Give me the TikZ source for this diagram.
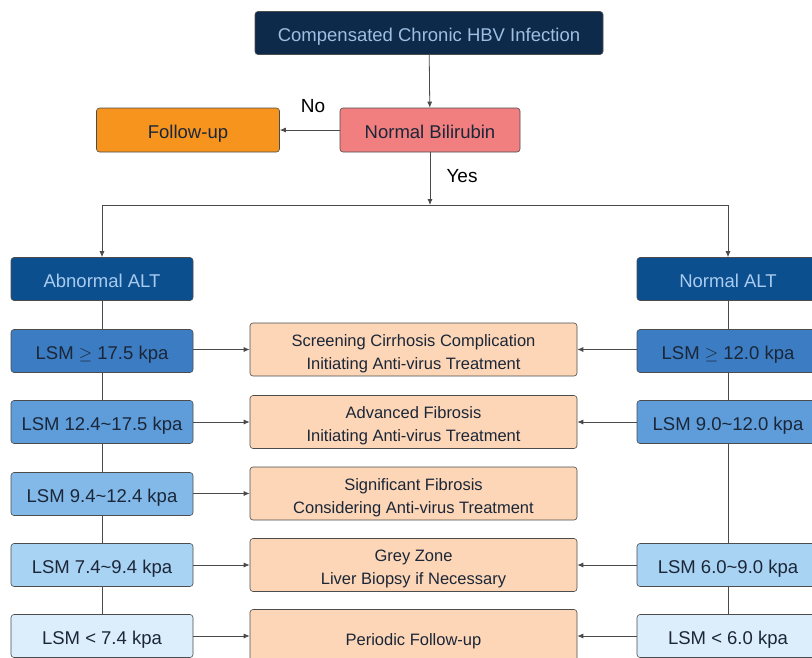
\documentclass[tikz,border=0pt]{standalone}
\usepackage{fontspec}
\setmainfont{Liberation Sans}
\usetikzlibrary{arrows.meta,positioning}
\definecolor{navy}{HTML}{0E2A4A}
\definecolor{navytext}{HTML}{9DBFE3}
\definecolor{bili}{HTML}{F27F7F}
\definecolor{follow}{HTML}{F7941D}
\definecolor{alt}{HTML}{0B4F8E}
\definecolor{alttext}{HTML}{A9CBEF}
\definecolor{lsmA}{HTML}{3B7CC2}
\definecolor{lsmB}{HTML}{5E9DDA}
\definecolor{lsmC}{HTML}{82B9E8}
\definecolor{lsmD}{HTML}{A9D3F3}
\definecolor{lsmE}{HTML}{DCEEFB}
\definecolor{peach}{HTML}{FCD6B6}
\definecolor{ink}{HTML}{1B2638}
\definecolor{wire}{HTML}{4A4A4A}

\begin{document}
\begin{tikzpicture}[%
  x=1pt, y=-1pt,
  box/.style={draw=black!70, line width=.6pt, rounded corners=3pt,
    minimum width=182pt, minimum height=43pt, inner sep=0pt,
    font=\fontsize{18.5}{22}\selectfont, text=ink, align=center},
  oneline/.style={box, text height=18pt, text depth=2pt},
  lsmbox/.style={oneline, fill=#1},
  advice/.style={box, fill=peach, minimum width=327pt, minimum height=53pt,
    font=\fontsize{16.5}{23}\selectfont, text height=39pt, text depth=0pt},
  link/.style={draw=wire, line width=.8pt},
  arr/.style={link, -{Latex[length=6pt,width=5pt]}},
  tlabel/.style={font=\fontsize{19}{22}\selectfont, text=black}]
\useasboundingbox (0,0) rectangle (812,657);

% top of the chart
\node[oneline, fill=navy, text=navytext, minimum width=348pt] (hbv) at (429,33)
  {Compensated Chronic HBV Infection};
\node[oneline, fill=bili, minimum width=180pt, minimum height=44pt] (bilirubin) at (430,130)
  {Normal Bilirubin};
\node[oneline, fill=follow, minimum width=183pt, minimum height=44pt] (followup) at (188,130)
  {Follow-up};
\coordinate (split) at (430,205);

\draw[arr] (hbv) -- (bilirubin);
\draw[arr] (bilirubin) -- (followup);
\node[tlabel] (no) at (313,106) {No};
\draw[arr] (bilirubin) -- (split);
\node[tlabel] (yes) at (462,176) {Yes};

% ALT branches
\node[oneline, fill=alt, text=alttext] (abnalt) at (102,279) {Abnormal ALT};
\node[oneline, fill=alt, text=alttext] (normalt) at (728,279) {Normal ALT};
\draw[arr] (split) -| (abnalt);
\draw[arr] (split) -| (normalt);

% abnormal ALT column
\node[lsmbox=lsmA] (la) at (102,351) {LSM $\geq$ 17.5 kpa};
\node[lsmbox=lsmB] (lb) at (102,422) {LSM 12.4\char`~17.5 kpa};
\node[lsmbox=lsmC] (lc) at (102,494) {LSM 9.4\char`~12.4 kpa};
\node[lsmbox=lsmD] (ld) at (102,565) {LSM 7.4\char`~9.4 kpa};
\node[lsmbox=lsmE] (le) at (102,636) {LSM < 7.4 kpa};

% normal ALT column
\node[lsmbox=lsmA] (ra) at (728,351) {LSM $\geq$ 12.0 kpa};
\node[lsmbox=lsmB] (rb) at (728,422) {LSM 9.0\char`~12.0 kpa};
\node[lsmbox=lsmD] (rd) at (728,565) {LSM 6.0\char`~9.0 kpa};
\node[lsmbox=lsmE] (re) at (728,636) {LSM < 6.0 kpa};

% advice in the middle
\node[advice] (ma) at (413.5,349.5) {Screening Cirrhosis Complication\\Initiating Anti-virus Treatment};
\node[advice] (mb) at (413.5,422) {Advanced Fibrosis\\Initiating Anti-virus Treatment};
\node[advice] (mc) at (413.5,493.5) {Significant Fibrosis\\Considering Anti-virus Treatment};
\node[advice] (md) at (413.5,565) {Grey Zone\\Liver Biopsy if Necessary};
\node[advice, text height=20pt, text depth=2pt] (me) at (413.5,636) {Periodic Follow-up};

\draw[link] (abnalt) -- (la) -- (lb) -- (lc) -- (ld) -- (le);
\draw[link] (normalt) -- (ra) -- (rb) -- (rd) -- (re);
\foreach \l/\m in {la/ma, lb/mb, lc/mc, ld/md, le/me}
  \draw[arr] (\l.east |- \m) -- (\m);
\foreach \r/\m in {ra/ma, rb/mb, rd/md, re/me}
  \draw[arr] (\r.west |- \m) -- (\m);
\end{tikzpicture}
\end{document}
